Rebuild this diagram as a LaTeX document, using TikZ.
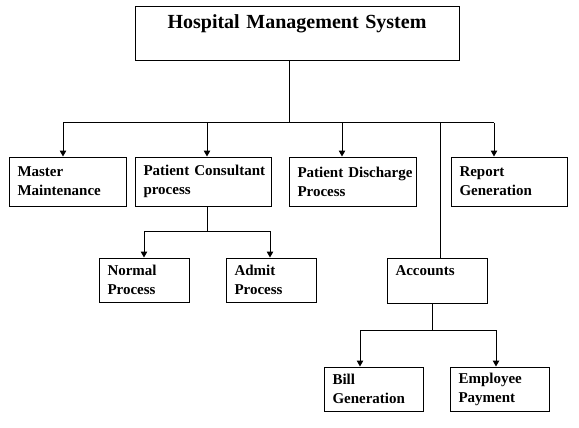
\documentclass[tikz,border=0pt]{standalone}
\usepackage{fontspec}
\setmainfont{Liberation Serif}
\usetikzlibrary{arrows.meta}
\tikzset{
  box/.style={draw, line width=1pt, inner xsep=8pt, inner ysep=0pt, align=left,
    font=\fontsize{15}{19}\selectfont\bfseries},
  titlebox/.style={draw, line width=1pt, inner xsep=8pt, inner ysep=0pt, align=center,
    font=\fontsize{20}{24}\selectfont\bfseries},
  line/.style={line width=1pt},
  arr/.style={line width=1pt, -{Triangle[length=6pt,width=6.5pt]}}
}
\begin{document}
\begin{tikzpicture}[x=1pt,y=1pt]
\useasboundingbox (0,0) rectangle (579,-428);
% boxes
\node[titlebox, minimum width=324, minimum height=54, text width=306] (hms) at (297,-34) {Hospital Management System\\\mbox{}};
\node[box, minimum width=117, minimum height=49, text width=100] (mm) at (67.5,-181.5) {Master\\Maintenance};
\node[box, minimum width=136, minimum height=49, text width=119] (pc) at (203,-181.5) {\mbox{Patient Consultant}\\process};
\node[box, minimum width=127, minimum height=49, text width=110] (pd) at (352.5,-181.5) {\mbox{Patient Discharge}\\Process};
\node[box, minimum width=116, minimum height=49, text width=99] (rg) at (509,-181.5) {Report\\Generation};
\node[box, minimum width=90, minimum height=44, text width=73] (np) at (144,-280) {Normal\\Process};
\node[box, minimum width=90, minimum height=44, text width=73] (ap) at (271,-280) {Admit\\Process};
\node[box, minimum width=100, minimum height=45, text width=83] (ac) at (437,-280.5) {Accounts\\\mbox{}};
\node[box, minimum width=99, minimum height=44, text width=82] (bg) at (373.5,-389) {Bill\\Generation};
\node[box, minimum width=99, minimum height=44, text width=82] (ep) at (499.5,-389) {Employee\\Payment};
% junction coordinates
\coordinate (top) at (289,-123);
\coordinate (jm) at (63,-123);
\coordinate (jpc) at (207,-123);
\coordinate (jpd) at (342,-123);
\coordinate (jac) at (440,-123);
\coordinate (jrg) at (494,-123);
\coordinate (pcb) at (207,-231);
\coordinate (jnp) at (144,-231);
\coordinate (jap) at (270,-231);
\coordinate (acb) at (432,-330);
\coordinate (jbg) at (360,-330);
\coordinate (jep) at (496,-330);
% connectors
\draw[line] (top |- hms.south) -- (top);
\draw[line] (jm) -- (jrg);
\draw[arr] (jm) -- (jm |- mm.north);
\draw[arr] (jpc) -- (jpc |- pc.north);
\draw[arr] (jpd) -- (jpd |- pd.north);
\draw[arr] (jrg) -- (jrg |- rg.north);
\draw[line] (jac) -- (jac |- ac.north);
\draw[line] (pcb |- pc.south) -- (pcb);
\draw[line] (jnp) -- (jap);
\draw[arr] (jnp) -- (jnp |- np.north);
\draw[arr] (jap) -- (jap |- ap.north);
\draw[line] (acb |- ac.south) -- (acb);
\draw[line] (jbg) -- (jep);
\draw[arr] (jbg) -- (jbg |- bg.north);
\draw[arr] (jep) -- (jep |- ep.north);
\end{tikzpicture}
\end{document}
